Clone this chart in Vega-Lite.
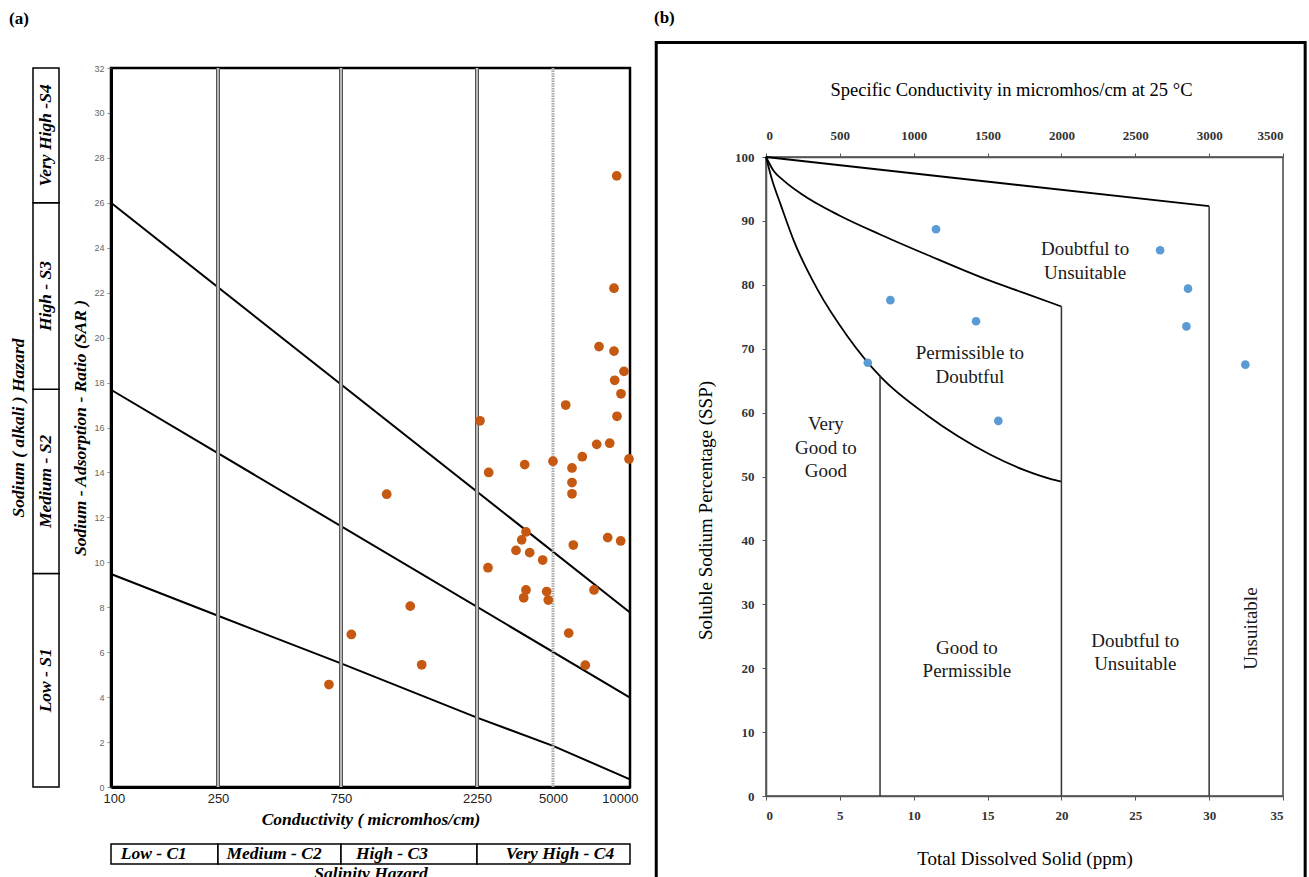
{
  "$schema": "https://vega.github.io/schema/vega-lite/v6.json",
  "background": "white",
  "padding": {"left": 9, "top": 9, "right": 0, "bottom": 0},
  "config": {"view": {"stroke": null}, "axis": {"grid": false}, "font": "Liberation Serif"},
  "datasets": {
    "sbox": [
      {"cls": "Low - S1", "lo": 0, "hi": 9.5, "mid": 4.75},
      {"cls": "Medium - S2", "lo": 9.5, "hi": 17.7, "mid": 13.6},
      {"cls": "High - S3", "lo": 17.7, "hi": 26, "mid": 21.85},
      {"cls": "Very High -S4", "lo": 26, "hi": 32, "mid": 29}
    ],
    "cbox": [
      {"cls": "Low - C1", "lo": 100, "hi": 250, "tx": 160},
      {"cls": "Medium - C2", "lo": 250, "hi": 750, "tx": 478},
      {"cls": "High - C3", "lo": 750, "hi": 2250, "tx": 1312},
      {"cls": "Very High - C4", "lo": 2250, "hi": 10000, "tx": 5455}
    ],
    "vlines": [{"ec": 250}, {"ec": 750}, {"ec": 2250}],
    "dotline": [{"ec": 5000}],
    "sarlines": [
      {"line": "a", "ec": 100, "sar": 26.0}, {"line": "a", "ec": 10000, "sar": 7.77},
      {"line": "b", "ec": 100, "sar": 17.68}, {"line": "b", "ec": 10000, "sar": 3.98},
      {"line": "c", "ec": 100, "sar": 9.48}, {"line": "c", "ec": 250, "sar": 7.62},
      {"line": "c", "ec": 750, "sar": 5.5}, {"line": "c", "ec": 2250, "sar": 3.09},
      {"line": "c", "ec": 5000, "sar": 1.83}, {"line": "c", "ec": 10000, "sar": 0.34}
    ],
    "ptsA": [
      {"ec": 9136, "sar": 27.2}, {"ec": 8961, "sar": 22.2}, {"ec": 7987, "sar": 19.6},
      {"ec": 8961, "sar": 19.4}, {"ec": 9610, "sar": 18.5}, {"ec": 9006, "sar": 18.1},
      {"ec": 9416, "sar": 17.5}, {"ec": 5825, "sar": 17.0}, {"ec": 9156, "sar": 16.5},
      {"ec": 2358, "sar": 16.3}, {"ec": 7838, "sar": 15.25}, {"ec": 8682, "sar": 15.3},
      {"ec": 6903, "sar": 14.7}, {"ec": 9935, "sar": 14.6}, {"ec": 5000, "sar": 14.5},
      {"ec": 3976, "sar": 14.35}, {"ec": 2673, "sar": 14.0}, {"ec": 6234, "sar": 14.2},
      {"ec": 6234, "sar": 13.55}, {"ec": 6234, "sar": 13.05}, {"ec": 8552, "sar": 11.1},
      {"ec": 9396, "sar": 10.95}, {"ec": 4023, "sar": 11.35}, {"ec": 3867, "sar": 11.0},
      {"ec": 6318, "sar": 10.77}, {"ec": 3661, "sar": 10.53}, {"ec": 4157, "sar": 10.43},
      {"ec": 4627, "sar": 10.1}, {"ec": 2648, "sar": 9.76}, {"ec": 4023, "sar": 8.77},
      {"ec": 3940, "sar": 8.42}, {"ec": 4772, "sar": 8.7}, {"ec": 4830, "sar": 8.32},
      {"ec": 7662, "sar": 8.77}, {"ec": 6019, "sar": 6.85}, {"ec": 7097, "sar": 5.42},
      {"ec": 1254, "sar": 13.03}, {"ec": 1514, "sar": 8.05}, {"ec": 864, "sar": 6.79},
      {"ec": 1640, "sar": 5.44}, {"ec": 701, "sar": 4.56}
    ],
    "frameB": [{"x0": -7.43, "x1": 36.5, "y0": -13.0, "y1": 117.9}],
    "vB": [
      {"tds": 7.72, "lo": 0, "hi": 65.7},
      {"tds": 20, "lo": 0, "hi": 76.6},
      {"tds": 30, "lo": 0, "hi": 92.3}
    ],
    "curvesB": [
      {"seg": "top", "tds": 0, "ssp": 100}, {"seg": "top", "tds": 30, "ssp": 92.3},
      {"seg": "mid", "tds": 0, "ssp": 100}, {"seg": "mid", "tds": 0.5, "ssp": 97.9},
      {"seg": "mid", "tds": 1.2, "ssp": 96.3}, {"seg": "mid", "tds": 2.4, "ssp": 94.2},
      {"seg": "mid", "tds": 5, "ssp": 90.8}, {"seg": "mid", "tds": 7.8, "ssp": 87.8},
      {"seg": "mid", "tds": 10.9, "ssp": 84.7}, {"seg": "mid", "tds": 15.2, "ssp": 80.6},
      {"seg": "mid", "tds": 17.5, "ssp": 78.7}, {"seg": "mid", "tds": 20, "ssp": 76.6},
      {"seg": "low", "tds": 0, "ssp": 100}, {"seg": "low", "tds": 0.4, "ssp": 96.5},
      {"seg": "low", "tds": 1.0, "ssp": 92.5}, {"seg": "low", "tds": 1.9, "ssp": 86.8},
      {"seg": "low", "tds": 3.5, "ssp": 79.2}, {"seg": "low", "tds": 5.5, "ssp": 72.0},
      {"seg": "low", "tds": 7.8, "ssp": 65.5}, {"seg": "low", "tds": 10.9, "ssp": 59.6},
      {"seg": "low", "tds": 13, "ssp": 56.3}, {"seg": "low", "tds": 15.2, "ssp": 53.4},
      {"seg": "low", "tds": 17.5, "ssp": 51.0}, {"seg": "low", "tds": 19.3, "ssp": 49.6},
      {"seg": "low", "tds": 20, "ssp": 49.2}
    ],
    "ptsB": [
      {"ec": 1151, "ssp": 88.7}, {"ec": 842, "ssp": 77.6}, {"ec": 1422, "ssp": 74.3},
      {"ec": 689, "ssp": 67.8}, {"ec": 2668, "ssp": 85.4}, {"ec": 2857, "ssp": 79.4},
      {"ec": 2846, "ssp": 73.5}, {"ec": 3245, "ssp": 67.5}, {"ec": 1573, "ssp": 58.7}
    ],
    "txtB": [
      {"t": "Doubtful to", "tds": 21.6, "ssp": 85.6}, {"t": "Unsuitable", "tds": 21.6, "ssp": 81.9},
      {"t": "Permissible to", "tds": 13.8, "ssp": 69.3}, {"t": "Doubtful", "tds": 13.8, "ssp": 65.6},
      {"t": "Very", "tds": 4.05, "ssp": 58.2}, {"t": "Good to", "tds": 4.05, "ssp": 54.5},
      {"t": "Good", "tds": 4.05, "ssp": 50.9},
      {"t": "Good to", "tds": 13.6, "ssp": 23.2}, {"t": "Permissible", "tds": 13.6, "ssp": 19.5},
      {"t": "Doubtful to", "tds": 25.0, "ssp": 24.3}, {"t": "Unsuitable", "tds": 25.0, "ssp": 20.7}
    ],
    "rotB": [{"t": "Unsuitable", "tds": 32.8, "ssp": 26.2}],
    "blank": [{"t": ""}]
  },
  "spacing": 13,
  "resolve": {"scale": {"x": "independent", "y": "independent"}},
  "hconcat": [
    {
      "title": {"text": "(a)", "anchor": "start", "fontSize": 17, "fontWeight": "bold", "font": "Liberation Serif", "offset": 35, "color": "black"},
      "bounds": "flush",
      "spacing": 52,
      "resolve": {"scale": {"x": "independent", "y": "independent"}},
      "hconcat": [
        {
          "width": 26, "height": 719,
          "data": {"name": "sbox"},
          "layer": [
            {
              "mark": {"type": "rect", "fill": "white", "stroke": "black", "strokeWidth": 1.5},
              "encoding": {
                "x": {"datum": 0, "type": "quantitative", "scale": {"domain": [0, 1], "nice": false}, "axis": null},
                "x2": {"datum": 1},
                "y": {"field": "lo", "type": "quantitative", "scale": {"domain": [0, 32], "nice": false},
                  "axis": {"title": "Sodium ( alkali ) Hazard", "labels": false, "ticks": false, "domain": false,
                    "titleFont": "Liberation Serif", "titleFontStyle": "italic", "titleFontWeight": "bold",
                    "titleFontSize": 17.5, "titleColor": "black", "titlePadding": 6}},
                "y2": {"field": "hi"}
              }
            },
            {
              "mark": {"type": "text", "angle": 270, "font": "Liberation Serif", "fontStyle": "italic", "fontWeight": "bold", "fontSize": 17.5, "color": "black"},
              "encoding": {
                "x": {"datum": 0.5, "type": "quantitative"},
                "y": {"field": "mid", "type": "quantitative"},
                "text": {"field": "cls"}
              }
            }
          ]
        },
        {
          "vconcat": [
            {
              "width": 519, "height": 719,
              "view": {"stroke": "black", "strokeWidth": 2.5},
              "layer": [
                {
                  "data": {"name": "sarlines"},
                  "mark": {"type": "line", "color": "black", "strokeWidth": 2},
                  "encoding": {
                    "x": {"field": "ec", "type": "quantitative",
                      "scale": {"type": "linear", "domain": [100, 250, 750, 2250, 5000, 10000], "range": [0, 107, 230, 366, 442, 519], "nice": false, "zero": false},
                      "axis": {"values": [100, 250, 750, 2250, 5000, 10000], "format": "d", "ticks": false,
                        "labelFlush": true, "labelFlushOffset": 8,
                        "labelFont": "Liberation Sans", "labelFontSize": 13, "labelColor": "#222222", "labelPadding": 5,
                        "domainColor": "black", "domainWidth": 3,
                        "title": "Conductivity ( micromhos/cm)", "titleFont": "Liberation Serif", "titleFontStyle": "italic",
                        "titleFontWeight": "bold", "titleFontSize": 17.5, "titleColor": "black", "titlePadding": 5}},
                    "y": {"field": "sar", "type": "quantitative", "scale": {"domain": [0, 32], "nice": false},
                      "axis": {"values": [0, 2, 4, 6, 8, 10, 12, 14, 16, 18, 20, 22, 24, 26, 28, 30, 32],
                        "labelFont": "Liberation Sans", "labelFontSize": 9, "labelColor": "#666666", "labelPadding": 3,
                        "labelFlush": false,
                        "tickSize": 4, "tickColor": "#888888", "domainColor": "black", "domainWidth": 3,
                        "title": "Sodium - Adsorption - Ratio (SAR )", "titleFont": "Liberation Serif", "titleFontStyle": "italic",
                        "titleFontWeight": "bold", "titleFontSize": 17.5, "titleColor": "black", "titlePadding": 4}},
                    "detail": {"field": "line"}
                  }
                },
                {
                  "data": {"name": "vlines"},
                  "mark": {"type": "rule", "color": "#555555", "strokeWidth": 4},
                  "encoding": {
                    "x": {"field": "ec", "type": "quantitative"}
                  }
                },
                {
                  "data": {"name": "vlines"},
                  "mark": {"type": "rule", "color": "#d8d8d8", "strokeWidth": 1.5},
                  "encoding": {
                    "x": {"field": "ec", "type": "quantitative"}
                  }
                },
                {
                  "data": {"name": "dotline"},
                  "mark": {"type": "rule", "color": "#a8a8a8", "strokeWidth": 3, "strokeDash": [1.5, 1]},
                  "encoding": {
                    "x": {"field": "ec", "type": "quantitative"}
                  }
                },
                {
                  "data": {"name": "ptsA"},
                  "mark": {"type": "circle", "color": "#c65911", "size": 95, "opacity": 1},
                  "encoding": {
                    "x": {"field": "ec", "type": "quantitative"},
                    "y": {"field": "sar", "type": "quantitative"}
                  }
                }
              ]
            },
            {
              "width": 519, "height": 20,
              "data": {"name": "cbox"},
              "layer": [
                {
                  "mark": {"type": "rect", "fill": "white", "stroke": "black", "strokeWidth": 1.5},
                  "encoding": {
                    "x": {"field": "lo", "type": "quantitative",
                      "scale": {"type": "linear", "domain": [100, 250, 750, 2250, 5000, 10000], "range": [0, 107, 230, 366, 442, 519], "nice": false, "zero": false},
                      "axis": {"title": "Salinity  Hazard", "labels": false, "ticks": false, "domain": false,
                        "titleFont": "Liberation Serif", "titleFontStyle": "italic", "titleFontWeight": "bold",
                        "titleFontSize": 17.5, "titleColor": "black", "titlePadding": 0}},
                    "x2": {"field": "hi"},
                    "y": {"datum": 0, "type": "quantitative", "scale": {"domain": [0, 1], "nice": false}, "axis": null},
                    "y2": {"datum": 1}
                  }
                },
                {
                  "mark": {"type": "text", "font": "Liberation Serif", "fontStyle": "italic", "fontWeight": "bold", "fontSize": 17.5, "color": "black"},
                  "encoding": {
                    "x": {"field": "tx", "type": "quantitative"},
                    "y": {"datum": 0.5, "type": "quantitative"},
                    "text": {"field": "cls"}
                  }
                }
              ]
            }
          ],
          "spacing": 57,
          "bounds": "flush",
          "resolve": {"scale": {"x": "independent", "y": "independent"}}
        }
      ]
    },
    {
      "title": {"text": "(b)", "anchor": "start", "fontSize": 17, "fontWeight": "bold", "font": "Liberation Serif", "offset": 13, "color": "black"},
      "bounds": "flush",
      "spacing": 79,
      "vconcat": [
        {
          "width": 517, "height": 10,
          "data": {"name": "blank"},
          "mark": {"type": "text"},
          "encoding": {"text": {"field": "t"}}
        },
        {
          "width": 517, "height": 639,
          "view": {"stroke": "#444444", "strokeWidth": 1.5},
          "resolve": {"scale": {"x": "independent"}},
          "layer": [
            {
              "data": {"name": "curvesB"},
              "mark": {"type": "line", "color": "black", "strokeWidth": 1.8, "interpolate": "monotone"},
              "encoding": {
                "x": {"field": "tds", "type": "quantitative", "scale": {"domain": [0, 35], "nice": false, "zero": false},
                  "axis": {"orient": "bottom", "values": [0, 5, 10, 15, 20, 25, 30, 35], "title": "Total Dissolved Solid (ppm)",
                    "labelFont": "Liberation Serif", "labelFontWeight": "bold", "labelFontSize": 13, "labelColor": "#333333",
                    "tickSize": 4, "tickColor": "#555555", "domainColor": "#555555", "domainWidth": 1.5, "labelPadding": 9,
                    "titleFont": "Liberation Serif", "titleFontSize": 19, "titleFontWeight": "normal", "titleColor": "black", "titlePadding": 27}},
                "y": {"field": "ssp", "type": "quantitative", "scale": {"domain": [0, 100], "nice": false, "zero": false},
                  "axis": {"orient": "left", "values": [0, 10, 20, 30, 40, 50, 60, 70, 80, 90, 100], "title": "Soluble Sodium Percentage (SSP)",
                    "labelFont": "Liberation Serif", "labelFontWeight": "bold", "labelFontSize": 13, "labelColor": "#333333",
                    "tickSize": 4, "tickColor": "#555555", "domainColor": "#555555", "domainWidth": 1.5, "labelPadding": 8,
                    "titleFont": "Liberation Serif", "titleFontSize": 19, "titleFontWeight": "normal", "titleColor": "black", "titlePadding": 19,
                    "titleY": 353}},
                "detail": {"field": "seg"}
              }
            },
            {
              "data": {"name": "vB"},
              "mark": {"type": "rule", "color": "#333333", "strokeWidth": 1.5},
              "encoding": {
                "x": {"field": "tds", "type": "quantitative", "scale": {"domain": [0, 35], "nice": false, "zero": false}, "axis": null},
                "y": {"field": "lo", "type": "quantitative"},
                "y2": {"field": "hi"}
              }
            },
            {
              "data": {"name": "ptsB"},
              "mark": {"type": "circle", "color": "#5b9bd5", "size": 75, "opacity": 1},
              "encoding": {
                "x": {"field": "ec", "type": "quantitative", "scale": {"domain": [0, 3500], "nice": false, "zero": false},
                  "axis": {"orient": "top", "values": [0, 500, 1000, 1500, 2000, 2500, 3000, 3500], "format": "d",
                    "title": "Specific Conductivity in micromhos/cm at 25 °C",
                    "labelFont": "Liberation Serif", "labelFontWeight": "bold", "labelFontSize": 13, "labelColor": "#333333",
                    "tickSize": 4, "tickColor": "#555555", "domainColor": "#555555", "domainWidth": 1.5, "labelPadding": 11,
                    "titleFont": "Liberation Serif", "titleFontSize": 18.5, "titleFontWeight": "normal", "titleColor": "black", "titlePadding": 30,
                    "titleX": 245}},
                "y": {"field": "ssp", "type": "quantitative"}
              }
            },
            {
              "data": {"name": "txtB"},
              "mark": {"type": "text", "font": "Liberation Serif", "fontSize": 19, "color": "#1a1a1a"},
              "encoding": {
                "x": {"field": "tds", "type": "quantitative", "scale": {"domain": [0, 35], "nice": false, "zero": false}, "axis": null},
                "y": {"field": "ssp", "type": "quantitative"},
                "text": {"field": "t"}
              }
            },
            {
              "data": {"name": "rotB"},
              "mark": {"type": "text", "font": "Liberation Serif", "fontSize": 19, "color": "#1a1a1a", "angle": 270},
              "encoding": {
                "x": {"field": "tds", "type": "quantitative", "scale": {"domain": [0, 35], "nice": false, "zero": false}, "axis": null},
                "y": {"field": "ssp", "type": "quantitative"},
                "text": {"field": "t"}
              }
            },
            {
              "data": {"name": "frameB"},
              "mark": {"type": "rect", "filled": false, "color": "black", "strokeWidth": 3},
              "encoding": {
                "x": {"field": "x0", "type": "quantitative", "scale": {"domain": [0, 35], "nice": false, "zero": false}, "axis": null},
                "x2": {"field": "x1"},
                "y": {"field": "y0", "type": "quantitative"},
                "y2": {"field": "y1"}
              }
            }
          ]
        }
      ]
    }
  ]
}
